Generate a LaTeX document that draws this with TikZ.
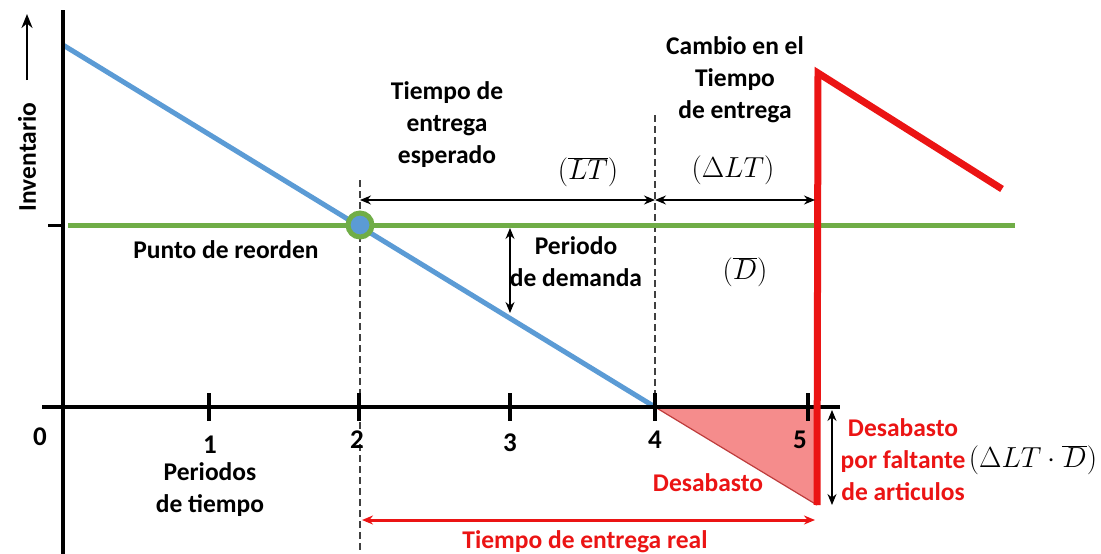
\RequirePackage{fix-cm}
\documentclass[tikz,border=0pt]{standalone}
\usepackage{fontspec}
\setmainfont{Carlito}
\usetikzlibrary{arrows.meta}
\definecolor{invblue}{RGB}{91,155,213}
\definecolor{reogreen}{RGB}{112,173,71}
\definecolor{shortred}{RGB}{235,20,20}
\definecolor{shortfill}{RGB}{245,140,140}
\definecolor{hypred}{RGB}{190,60,60}
\tikzset{
  lbl/.style={font=\bfseries\fontsize{25.5}{32}\selectfont, align=center, inner sep=0pt},
  redlbl/.style={lbl, text=shortred},
  ticklbl/.style={font=\bfseries\fontsize{27}{30}\selectfont, inner sep=0pt},
  mathlbl/.style={font=\fontsize{29}{32}\selectfont, inner sep=0pt},
  axisline/.style={line width=3.5pt},
  dimarrow/.style={line width=1.2pt, {Stealth[length=11pt,width=9pt]}-{Stealth[length=11pt,width=9pt]}},
  guide/.style={line width=1.3pt, black!75, dash pattern=on 7pt off 4pt}
}
\begin{document}
\begin{tikzpicture}[x=1pt,y=-1pt]
\useasboundingbox (0,0) rectangle (1101,554);

% Named points
\coordinate (O) at (63,407);
\coordinate (T2) at (360,407);
\coordinate (T4) at (655,407);
\coordinate (T5) at (817,407);
\coordinate (R) at (360,225);
\coordinate (S) at (817,505);

% Shortage triangle
\fill [shortfill] (T4) -- (T5) -- (S) -- cycle;
\draw [line width=1.2pt, hypred] (T4) -- (S);

% Guide lines
\draw [guide] (360,180) -- (360,554);
\draw [guide] (655,115) -- (T4);

% Inventory line
\draw [line width=5pt, invblue] (63,45) -- (T4);

% Reorder line
\draw [line width=5pt, reogreen] (68,225) -- (1015,225);

% Axes
\draw [axisline] (63,10) -- (63,554);
\draw [axisline] (42,407) -- (840,407);
\draw [line width=3pt] (48,225) -- (63,225);
\foreach \tx in {63,209,359,510,655,808}
  \draw [line width=3.5pt] (\tx,393) -- (\tx,421);

% Reorder point
\draw [line width=5pt, reogreen, fill=invblue] (R) circle (12);

% New order line
\draw [line width=7pt, shortred, line join=miter] (S) -- (818,73) -- (1002,189);

% Dimension arrows
\coordinate (LTa) at (360,200);
\coordinate (LTb) at (655,200);
\coordinate (DLTb) at (815,200);
\draw [dimarrow] (LTa) -- (LTb);
\draw [dimarrow] (LTb) -- (DLTb);
\draw [dimarrow] (510,228) -- (510,313);
\draw [dimarrow] (832,410) -- (832,505);
\draw [dimarrow, shortred, line width=3pt] (362,520) -- (815,520);

% Inventory axis arrow
\draw [line width=2.2pt, -{Stealth[length=14pt,width=11pt]}] (27,80) -- (27,14);
\node [lbl, rotate=90] (inv) at (27,157) {Inventario};

% Tick labels
\node [ticklbl] (l0) at (40,437) {0};
\node [ticklbl] (l1) at (210,445) {1};
\node [ticklbl] (l2) at (357,440) {2};
\node [ticklbl] (l3) at (510,443) {3};
\node [ticklbl] (l4) at (655,440) {4};
\node [ticklbl] (l5) at (800,440) {5};

% Labels
\node [lbl] (per) at (210,490) {Periodos\\de tiempo};
\node [lbl] (reo) at (226,250) {Punto de reorden};
\node [lbl] (esp) at (447,125) {Tiempo de\\entrega\\esperado};
\node [lbl] (cam) at (735,80) {Cambio en el\\Tiempo\\de entrega};
\node [lbl] (dem) at (576,262) {Periodo\\de demanda};
\node [mathlbl] (lt) at (588,172) {$(\overline{LT})$};
\node [mathlbl] (dlt) at (733,170) {$(\Delta LT)$};
\node [mathlbl] (dbar) at (745,272) {$(\overline{D})$};
\node [mathlbl] (prod) at (1033,460) {$(\Delta LT\cdot\overline{D})$};
\node [redlbl] (des) at (708,483) {Desabasto};
\node [redlbl] (fal) at (903,460) {Desabasto\\por faltante\\de articulos};
\node [redlbl] (real) at (585,542) {Tiempo de entrega real};
\end{tikzpicture}
\end{document}
